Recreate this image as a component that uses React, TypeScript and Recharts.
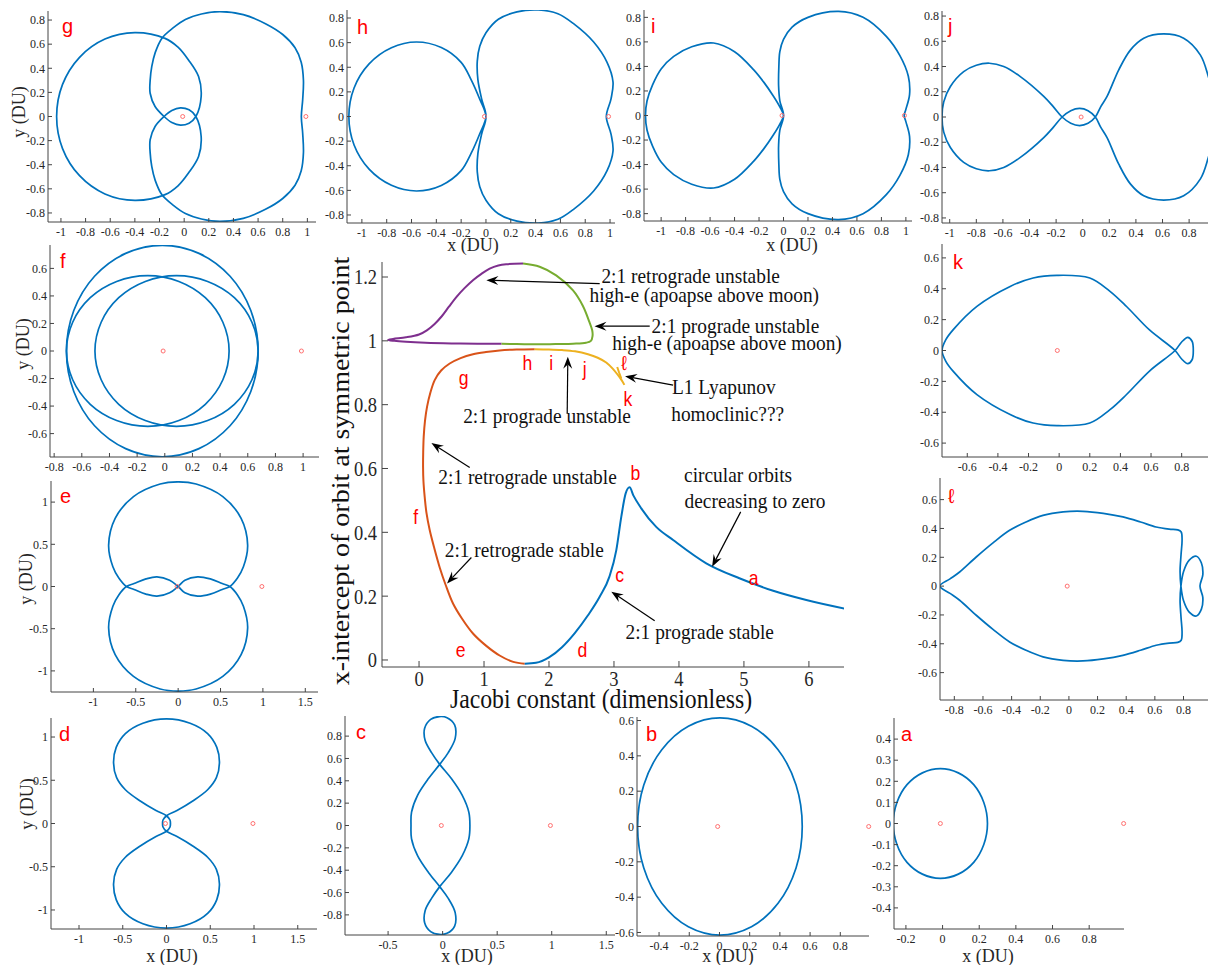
import React from "react";
import { LineChart, Line, XAxis, YAxis, ReferenceDot, ReferenceLine } from "recharts";

const SERIF = '"Liberation Serif", "Times New Roman", serif';
const SANS = '"Liberation Sans", Arial, sans-serif';
const INK = "#262626";
const FRAME = "#444";
const BLUE = "#0072BD";
const RED = "#ff0000";

// earth and moon on the x axis (DU)
const primaries = [-0.012, 0.988];

// ---------- tick lists ----------
const ticksOne = [-1, -0.8, -0.6, -0.4, -0.2, 0, 0.2, 0.4, 0.6, 0.8, 1];
const ticksP8 = [-0.8, -0.6, -0.4, -0.2, 0, 0.2, 0.4, 0.6, 0.8];
const ticksP6 = [-0.6, -0.4, -0.2, 0, 0.2, 0.4, 0.6];
const ticksF = [-0.8, -0.6, -0.4, -0.2, 0, 0.2, 0.4, 0.6, 0.8, 1];
const ticksK = [-0.6, -0.4, -0.2, 0, 0.2, 0.4, 0.6, 0.8];
const ticksHalfX = [-1, -0.5, 0, 0.5, 1, 1.5];
const ticksHalfY = [-1, -0.5, 0, 0.5, 1];
const ticksC = [-0.5, 0, 0.5, 1, 1.5];
const ticksB = [-0.4, -0.2, 0, 0.2, 0.4, 0.6, 0.8];
const ticksAX = [-0.2, 0, 0.2, 0.4, 0.6, 0.8];
const ticksAY = [-0.4, -0.3, -0.2, -0.1, 0, 0.1, 0.2, 0.3, 0.4];
const mainXTicks = [0, 1, 2, 3, 4, 5, 6];
const mainYTicks = [0, 0.2, 0.4, 0.6, 0.8, 1, 1.2];

// ---------- orbits (x, y in DU) ----------
const orbitG = [
  [0.29, 0.87], [0.48, 0.845], [0.66, 0.77], [0.8, 0.68], [0.9, 0.57], [0.95, 0.45], [0.968, 0.3], [0.962, 0.14], [0.951, 0],
  [0.962, -0.14], [0.968, -0.3], [0.95, -0.45], [0.9, -0.57], [0.8, -0.68], [0.66, -0.77], [0.48, -0.845], [0.29, -0.87],
  [0.14, -0.85], [0.01, -0.805], [-0.09, -0.735], [-0.18, -0.65], [-0.235, -0.53], [-0.263, -0.414], [-0.276, -0.3],
  [-0.276, -0.193], [-0.236, -0.083], [-0.163, 0],
  [-0.1, 0.05], [-0.03, 0.072], [0.04, 0.055], [0.095, 0],
  [0.138, -0.166], [0.117, -0.331], [0.035, -0.469], [-0.05, -0.575], [-0.155, -0.648], [-0.4, -0.695], [-0.643, -0.642],
  [-0.849, -0.491], [-0.987, -0.266], [-1.035, 0], [-0.987, 0.266], [-0.849, 0.491], [-0.643, 0.642], [-0.4, 0.695],
  [-0.155, 0.648], [-0.05, 0.575], [0.035, 0.469], [0.117, 0.331], [0.138, 0.166], [0.095, 0],
  [0.04, -0.055], [-0.03, -0.072], [-0.1, -0.05], [-0.163, 0],
  [-0.236, 0.083], [-0.276, 0.193], [-0.276, 0.3], [-0.263, 0.414], [-0.235, 0.53], [-0.18, 0.65], [-0.09, 0.735],
  [0.01, 0.805], [0.14, 0.85], [0.29, 0.87],
];

const orbitH = [
  [0, 0], [-0.035, 0.143], [-0.065, 0.3], [-0.07, 0.45], [-0.05, 0.57], [0.0, 0.68], [0.1, 0.79], [0.25, 0.85],
  [0.423, 0.865], [0.58, 0.835], [0.706, 0.754], [0.868, 0.605], [0.976, 0.44], [1.024, 0.28], [1.008, 0.143], [0.97, 0],
  [1.008, -0.143], [1.024, -0.28], [0.976, -0.44], [0.868, -0.605], [0.706, -0.754], [0.58, -0.835], [0.423, -0.865],
  [0.25, -0.85], [0.1, -0.79], [0.0, -0.68], [-0.05, -0.57], [-0.07, -0.45], [-0.065, -0.3], [-0.035, -0.143], [0, 0],
  [-0.05, 0.14], [-0.12, 0.3], [-0.2, 0.44], [-0.36, 0.56], [-0.56, 0.605], [-0.762, 0.559], [-0.942, 0.428], [-1.063, 0.232],
  [-1.105, 0], [-1.063, -0.232], [-0.942, -0.428], [-0.762, -0.559], [-0.56, -0.605], [-0.36, -0.56], [-0.2, -0.44],
  [-0.12, -0.3], [-0.05, -0.14], [0, 0],
];

const orbitI = [
  [0, 0], [-0.03, 0.12], [-0.04, 0.24], [-0.038, 0.4], [-0.03, 0.52], [0.0, 0.62], [0.07, 0.72], [0.2, 0.8], [0.45, 0.848],
  [0.65, 0.8], [0.84, 0.645], [0.95, 0.49], [1.02, 0.32], [1.03, 0.17], [1.0, 0.05], [0.986, 0],
  [1.0, -0.05], [1.03, -0.17], [1.02, -0.32], [0.95, -0.49], [0.84, -0.645], [0.65, -0.8], [0.45, -0.848],
  [0.2, -0.8], [0.07, -0.72], [0.0, -0.62], [-0.03, -0.52], [-0.038, -0.4], [-0.04, -0.24], [-0.03, -0.12], [0, 0],
  [-0.03, 0.07], [-0.082, 0.157], [-0.16, 0.27], [-0.245, 0.374], [-0.4, 0.52], [-0.571, 0.591], [-0.75, 0.56], [-0.897, 0.482],
  [-1.0, 0.38], [-1.07, 0.25], [-1.115, 0.12], [-1.128, 0], [-1.115, -0.12], [-1.07, -0.25], [-1.0, -0.38], [-0.897, -0.482],
  [-0.75, -0.56], [-0.571, -0.591], [-0.4, -0.52], [-0.245, -0.374], [-0.16, -0.27], [-0.082, -0.157], [-0.03, -0.07], [0, 0],
];

const orbitJ = [
  [-0.155, 0], [-0.09, -0.05], [-0.023, -0.068], [0.04, -0.05], [0.095, 0], [0.135, 0.08], [0.183, 0.163], [0.271, 0.374],
  [0.358, 0.53], [0.459, 0.624], [0.609, 0.658], [0.759, 0.624], [0.885, 0.49], [0.945, 0.32], [0.985, 0.17], [1.0, 0.05],
  [0.995, 0], [1.0, -0.05], [0.985, -0.17], [0.945, -0.32], [0.885, -0.49], [0.759, -0.624], [0.609, -0.658], [0.459, -0.624],
  [0.358, -0.53], [0.271, -0.374], [0.183, -0.163], [0.135, -0.08], [0.095, 0], [0.04, 0.05], [-0.023, 0.068], [-0.09, 0.05],
  [-0.155, 0], [-0.22, -0.08], [-0.293, -0.163], [-0.469, -0.32], [-0.594, -0.4], [-0.702, -0.426], [-0.8, -0.41],
  [-0.895, -0.36], [-0.995, -0.242], [-1.045, -0.12], [-1.058, 0], [-1.045, 0.12], [-0.995, 0.242], [-0.895, 0.36],
  [-0.8, 0.41], [-0.702, 0.426], [-0.594, 0.4], [-0.469, 0.32], [-0.293, 0.163], [-0.22, 0.08], [-0.155, 0],
];

const orbitFOuter = [
  [0.675, 0], [0.622, 0.294], [0.472, 0.543], [0.247, 0.709], [-0.018, 0.768], [-0.283, 0.709], [-0.508, 0.543], [-0.658, 0.294],
  [-0.711, 0], [-0.658, -0.294], [-0.508, -0.543], [-0.283, -0.709], [-0.018, -0.768], [0.247, -0.709], [0.472, -0.543],
  [0.622, -0.294], [0.675, 0],
];
const orbitFLeft = [
  [0.465, 0], [0.42, 0.209], [0.293, 0.387], [0.102, 0.505], [-0.123, 0.547], [-0.348, 0.505], [-0.539, 0.387], [-0.666, 0.209],
  [-0.711, 0], [-0.666, -0.209], [-0.539, -0.387], [-0.348, -0.505], [-0.123, -0.547], [0.102, -0.505], [0.293, -0.387],
  [0.42, -0.209], [0.465, 0],
];
const orbitFRight = [
  [0.675, 0], [0.63, 0.209], [0.503, 0.387], [0.31, 0.505], [0.085, 0.547], [-0.141, 0.505], [-0.333, 0.387], [-0.46, 0.209],
  [-0.505, 0], [-0.46, -0.209], [-0.333, -0.387], [-0.141, -0.505], [0.085, -0.547], [0.31, -0.505], [0.503, -0.387],
  [0.63, -0.209], [0.675, 0],
];

const orbitE = [
  [0, 0], [0.08, 0.075], [0.23, 0.115], [0.38, 0.09], [0.52, 0.035], [0.61, 0],
  [0.7, -0.1], [0.77, -0.233], [0.82, -0.49], [0.743, -0.807], [0.527, -1.065], [0.212, -1.214], [0, -1.24], [-0.212, -1.214],
  [-0.527, -1.065], [-0.743, -0.807], [-0.82, -0.49], [-0.77, -0.233], [-0.7, -0.1], [-0.61, 0],
  [-0.52, 0.035], [-0.38, 0.09], [-0.25, 0.115], [-0.1, 0.075], [0, 0],
  [0.08, -0.075], [0.23, -0.115], [0.38, -0.09], [0.52, -0.035], [0.61, 0],
  [0.7, 0.1], [0.77, 0.233], [0.82, 0.49], [0.743, 0.807], [0.527, 1.065], [0.212, 1.214], [0, 1.24], [-0.212, 1.214],
  [-0.527, 1.065], [-0.743, 0.807], [-0.82, 0.49], [-0.77, 0.233], [-0.7, 0.1], [-0.61, 0],
  [-0.52, -0.035], [-0.38, -0.09], [-0.25, -0.115], [-0.1, -0.075], [0, 0],
];

const orbitD = [
  [0, 0.09], [0.12, 0.15], [0.3, 0.26], [0.47, 0.39], [0.57, 0.53], [0.605, 0.7], [0.575, 0.88], [0.47, 1.04], [0.27, 1.16],
  [0, 1.21], [-0.27, 1.16], [-0.47, 1.04], [-0.575, 0.88], [-0.605, 0.7], [-0.57, 0.53], [-0.47, 0.39], [-0.3, 0.26],
  [-0.12, 0.15], [0, 0.09], [0.04, 0.04], [0.045, 0], [0.04, -0.04], [0, -0.09],
  [-0.12, -0.15], [-0.3, -0.26], [-0.47, -0.39], [-0.57, -0.53], [-0.605, -0.7], [-0.575, -0.88], [-0.47, -1.04],
  [-0.27, -1.16], [0, -1.21], [0.27, -1.16], [0.47, -1.04], [0.575, -0.88], [0.605, -0.7], [0.57, -0.53], [0.47, -0.39],
  [0.3, -0.26], [0.12, -0.15], [0, -0.09], [-0.04, -0.04], [-0.045, 0], [-0.04, 0.04], [0, 0.09],
];

const orbitC = [
  [-0.027, 0.547], [0.05, 0.65], [0.115, 0.78], [0.11, 0.9], [0.04, 0.965], [-0.03, 0.975], [-0.11, 0.95], [-0.165, 0.87],
  [-0.16, 0.76], [-0.1, 0.65], [-0.027, 0.547], [0.08, 0.42], [0.18, 0.27], [0.24, 0.12], [0.25, 0], [0.24, -0.12], [0.18, -0.27],
  [0.08, -0.42], [-0.027, -0.547], [-0.1, -0.65], [-0.16, -0.76], [-0.165, -0.87], [-0.11, -0.95], [-0.03, -0.975],
  [0.04, -0.965], [0.11, -0.9], [0.115, -0.78], [0.05, -0.65], [-0.027, -0.547], [-0.13, -0.42], [-0.23, -0.27], [-0.285, -0.12],
  [-0.29, 0], [-0.285, 0.12], [-0.23, 0.27], [-0.13, 0.42], [-0.027, 0.547],
];

const orbitB = [
  [0.548, 0], [0.507, 0.235], [0.388, 0.435], [0.212, 0.568], [0.003, 0.615], [-0.206, 0.568], [-0.382, 0.435], [-0.501, 0.235],
  [-0.542, 0], [-0.501, -0.235], [-0.382, -0.435], [-0.206, -0.568], [0.003, -0.615], [0.212, -0.568], [0.388, -0.435],
  [0.507, -0.235], [0.548, 0],
];

const orbitA = [
  [0.245, 0], [0.225, 0.0995], [0.17, 0.184], [0.086, 0.24], [-0.012, 0.26], [-0.11, 0.24], [-0.194, 0.184], [-0.249, 0.0995],
  [-0.269, 0], [-0.249, -0.0995], [-0.194, -0.184], [-0.11, -0.24], [-0.012, -0.26], [0.086, -0.24], [0.17, -0.184],
  [0.225, -0.0995], [0.245, 0],
];

const orbitK = [
  [-0.765, 0], [-0.74, 0.07], [-0.69, 0.137], [-0.537, 0.286], [-0.32, 0.415], [-0.17, 0.47], [-0.015, 0.487], [0.2, 0.47],
  [0.33, 0.385], [0.44, 0.285], [0.59, 0.133], [0.757, 0], [0.8, -0.055], [0.84, -0.085], [0.868, -0.06], [0.876, 0],
  [0.868, 0.06], [0.84, 0.085], [0.8, 0.055], [0.757, 0], [0.59, -0.133], [0.44, -0.285], [0.33, -0.385], [0.2, -0.47],
  [-0.015, -0.487], [-0.17, -0.47], [-0.32, -0.415], [-0.537, -0.286], [-0.69, -0.137], [-0.74, -0.07], [-0.765, 0],
];

const orbitL = [
  [-0.902, 0], [-0.83, 0.05], [-0.763, 0.098], [-0.647, 0.202], [-0.53, 0.3], [-0.414, 0.387], [-0.3, 0.445], [-0.181, 0.491],
  [-0.04, 0.515], [0.098, 0.519], [0.24, 0.505], [0.377, 0.48], [0.5, 0.445], [0.609, 0.41], [0.7, 0.395], [0.76, 0.39],
  [0.784, 0.375], [0.79, 0.32], [0.783, 0.22], [0.776, 0.1], [0.782, 0], [0.8, -0.1], [0.84, -0.18], [0.89, -0.207],
  [0.925, -0.16], [0.935, -0.08], [0.915, 0], [0.935, 0.08], [0.925, 0.16], [0.89, 0.207], [0.84, 0.18], [0.8, 0.1],
  [0.782, 0], [0.776, -0.1], [0.783, -0.22], [0.79, -0.32], [0.784, -0.375], [0.76, -0.39], [0.7, -0.395], [0.609, -0.41],
  [0.5, -0.445], [0.377, -0.48], [0.24, -0.505], [0.098, -0.519], [-0.04, -0.515], [-0.181, -0.491], [-0.3, -0.445],
  [-0.414, -0.387], [-0.53, -0.3], [-0.647, -0.202], [-0.763, -0.098], [-0.83, -0.05], [-0.902, 0],
];

// ---------- family curves: Jacobi constant vs x-intercept ----------
const progradeStable = [
  [1.626, -0.012], [1.8, -0.009], [2.0, 0.008], [2.2, 0.04], [2.4, 0.085], [2.6, 0.14], [2.78, 0.198], [2.93, 0.261],
  [3.036, 0.344], [3.113, 0.449], [3.18, 0.522], [3.24, 0.541], [3.3, 0.515], [3.42, 0.475], [3.65, 0.417], [3.91, 0.376],
  [4.42, 0.303], [4.93, 0.256], [5.45, 0.217], [5.96, 0.188], [6.55, 0.161],
];
const retrograde = [
  [1.626, -0.012], [1.45, -0.006], [1.24, 0.014], [1.03, 0.045], [0.83, 0.083], [0.66, 0.13], [0.523, 0.177], [0.41, 0.235],
  [0.318, 0.29], [0.235, 0.35], [0.164, 0.407], [0.115, 0.46], [0.087, 0.511], [0.068, 0.56], [0.062, 0.605], [0.064, 0.65],
  [0.072, 0.7], [0.092, 0.75], [0.123, 0.793], [0.175, 0.838], [0.241, 0.877], [0.34, 0.907], [0.472, 0.929], [0.64, 0.946],
  [0.83, 0.958], [1.03, 0.965], [1.24, 0.97], [1.5, 0.973], [1.78, 0.974],
];
const progradeUnstable = [
  [1.78, 0.974], [2.0, 0.973], [2.2, 0.971], [2.4, 0.967], [2.6, 0.958], [2.75, 0.947], [2.88, 0.932], [2.98, 0.913],
  [3.06, 0.893], [3.12, 0.876], [3.16, 0.862],
];
const lyapunovBranch = [[3.05, 0.918], [3.08, 0.9], [3.113, 0.882]];
const retroHighE = [
  [1.27, 0.9905], [0.9, 0.991], [0.5, 0.992], [0.1, 0.994], [-0.2, 0.997], [-0.38, 1.0], [-0.477, 1.003], [-0.4, 1.006],
  [-0.2, 1.011], [0.0, 1.02], [0.12, 1.033], [0.24, 1.053], [0.35, 1.077], [0.46, 1.107], [0.574, 1.137], [0.7, 1.165],
  [0.83, 1.19], [0.96, 1.21], [1.087, 1.226], [1.22, 1.236], [1.34, 1.24], [1.6, 1.242],
];
const proHighE = [
  [1.6, 1.242], [1.856, 1.232], [2.11, 1.205], [2.37, 1.158], [2.52, 1.11], [2.62, 1.06], [2.665, 1.033], [2.67, 1.015],
  [2.645, 1.0], [2.57, 0.994], [2.37, 0.991], [2.1, 0.99], [1.856, 0.989], [1.5, 0.99], [1.27, 0.9905],
];

// notes on the big panel, in data coordinates
const notes = [
  { text: "2:1 retrograde unstable", x: 4.18, y: 1.206 },
  { text: "high-e (apoapse above moon)", x: 4.39, y: 1.146 },
  { text: "2:1 prograde unstable", x: 4.87, y: 1.049 },
  { text: "high-e (apoapse above moon)", x: 4.74, y: 0.993 },
  { text: "2:1 prograde unstable", x: 1.97, y: 0.767 },
  { text: "L1 Lyapunov", x: 4.69, y: 0.856 },
  { text: "homoclinic???", x: 4.75, y: 0.772 },
  { text: "2:1 retrograde unstable", x: 1.67, y: 0.574 },
  { text: "circular orbits", x: 4.91, y: 0.582 },
  { text: "decreasing to zero", x: 5.17, y: 0.501 },
  { text: "2:1 retrograde stable", x: 1.62, y: 0.347 },
  { text: "2:1 prograde stable", x: 4.32, y: 0.089 },
];
const arrows = [
  { from: [2.78, 1.179], to: [1.036, 1.19] },
  { from: [3.55, 1.046], to: [2.7, 1.046] },
  { from: [2.28, 0.772], to: [2.29, 0.95] },
  { from: [3.91, 0.861], to: [3.17, 0.889] },
  { from: [0.78, 0.603], to: [0.19, 0.68] },
  { from: [4.95, 0.464], to: [4.51, 0.292] },
  { from: [0.805, 0.321], to: [0.431, 0.24] },
  { from: [3.626, 0.123], to: [2.959, 0.214] },
];
const familyLetters = [
  { t: "g", x: 0.687, y: 0.884 }, { t: "h", x: 1.667, y: 0.931 }, { t: "i", x: 2.036, y: 0.931 },
  { t: "j", x: 2.549, y: 0.91 }, { t: "ℓ", x: 3.154, y: 0.929 }, { t: "k", x: 3.215, y: 0.816 },
  { t: "b", x: 3.328, y: 0.586 }, { t: "f", x: -0.051, y: 0.449 }, { t: "c", x: 3.087, y: 0.266 },
  { t: "a", x: 5.149, y: 0.258 }, { t: "e", x: 0.641, y: 0.031 }, { t: "d", x: 2.513, y: 0.031 },
];

// centripetal Catmull-Rom through the points; closes the loop when the path ends where it began
const smoothCurve = (context: any) => {
  let pts: number[][] = [];
  return {
    areaStart() {},
    areaEnd() {},
    lineStart() { pts = []; },
    point(x: number, y: number) { pts.push([+x, +y]); },
    lineEnd() {
      if (!pts.length) return;
      const last = pts[pts.length - 1];
      const closed = pts.length > 3 && Math.abs(pts[0][0] - last[0]) < 0.01 && Math.abs(pts[0][1] - last[1]) < 0.01;
      const p = closed ? pts.slice(0, -1) : pts;
      const n = p.length;
      context.moveTo(p[0][0], p[0][1]);
      const get = (i: number) => (closed ? p[(i + n) % n] : p[Math.max(0, Math.min(n - 1, i))]);
      const segs = closed ? n : n - 1;
      for (let i = 0; i < segs; i++) {
        const p0 = get(i - 1), p1 = get(i), p2 = get(i + 1), p3 = get(i + 2);
        const d01 = Math.hypot(p1[0] - p0[0], p1[1] - p0[1]);
        const d12 = Math.hypot(p2[0] - p1[0], p2[1] - p1[1]);
        const d23 = Math.hypot(p3[0] - p2[0], p3[1] - p2[1]);
        const a01 = Math.sqrt(d01), a12 = Math.sqrt(d12), a23 = Math.sqrt(d23);
        let c1x = p1[0], c1y = p1[1], c2x = p2[0], c2y = p2[1];
        if (a01 > 1e-6) {
          const A = 2 * d01 + 3 * a01 * a12 + d12;
          const N = 3 * a01 * (a01 + a12);
          c1x = (p1[0] * A - p0[0] * d12 + p2[0] * d01) / N;
          c1y = (p1[1] * A - p0[1] * d12 + p2[1] * d01) / N;
        }
        if (a23 > 1e-6) {
          const Bc = 2 * d23 + 3 * a23 * a12 + d12;
          const M = 3 * a23 * (a23 + a12);
          c2x = (p2[0] * Bc + p1[0] * d23 - p3[0] * d12) / M;
          c2y = (p2[1] * Bc + p1[1] * d23 - p3[1] * d12) / M;
        }
        context.bezierCurveTo(c1x, c1y, c2x, c2y, p2[0], p2[1]);
      }
      if (closed) context.closePath();
    },
  };
};

const familySeries = [
  { data: retroHighE, color: "#7E2F8E", curve: smoothCurve },
  { data: proHighE, color: "#77AC30", curve: smoothCurve },
  { data: retrograde, color: "#D95319", curve: smoothCurve },
  { data: progradeUnstable, color: "#EDB120", curve: smoothCurve },
  { data: lyapunovBranch, color: "#EDB120", curve: "linear" },
  { data: progradeStable, color: BLUE, curve: "monotone" },
];

// ---------- layout of the small panels ----------
const panels = [
  { id: "g", box: [48, 11, 316, 222], xd: [-1.105, 1.07], yd: [-0.875, 0.875], xt: ticksOne, yt: ticksP8, curves: [orbitG], lp: [62, 16] },
  { id: "h", box: [347, 10, 615, 223], xd: [-1.12, 1.04], yd: [-0.865, 0.865], xt: ticksOne, yt: ticksP8, curves: [orbitH], lp: [357, 17] },
  { id: "i", box: [644, 10, 912, 221], xd: [-1.14, 1.05], yd: [-0.86, 0.86], xt: ticksOne, yt: ticksP8, curves: [orbitI], lp: [651, 16] },
  { id: "j", box: [942, 11, 1210, 223], xd: [-1.058, 0.957], yd: [-0.84, 0.84], xt: ticksOne, yt: ticksP8, curves: [orbitJ], lp: [948, 16] },
  { id: "f", box: [50, 245, 319, 457], xd: [-0.83, 1.115], yd: [-0.77, 0.77], xt: ticksF, yt: ticksP6, curves: [orbitFOuter, orbitFLeft, orbitFRight], lp: [60, 251] },
  { id: "k", box: [942, 244, 1210, 457], xd: [-0.765, 0.985], yd: [-0.69, 0.69], xt: ticksK, yt: ticksP6, curves: [orbitK], lp: [953, 252] },
  { id: "e", box: [51, 481, 318, 692], xd: [-1.5, 1.65], yd: [-1.25, 1.25], xt: ticksHalfX, yt: ticksHalfY, curves: [orbitE], lp: [60, 486] },
  { id: "ℓ", box: [940, 478, 1210, 700], xd: [-0.9, 0.985], yd: [-0.79, 0.75], xt: ticksP8, yt: ticksP6, curves: [orbitL], lp: [948, 486] },
  { id: "d", box: [51, 718, 317, 929], xd: [-1.32, 1.72], yd: [-1.22, 1.22], xt: ticksHalfX, yt: ticksHalfY, curves: [orbitD], lp: [59, 724] },
  { id: "c", box: [345, 716, 615, 935], xd: [-0.895, 1.58], yd: [-0.98, 0.98], xt: ticksC, yt: ticksP8, curves: [orbitC], lp: [356, 722] },
  { id: "b", box: [637, 717, 869, 936], xd: [-0.546, 0.99], yd: [-0.62, 0.62], xt: ticksB, yt: ticksP6, curves: [orbitB], lp: [646, 724] },
  { id: "a", box: [894, 718, 1124, 929], xd: [-0.265, 0.99], yd: [-0.5, 0.5], xt: ticksAX, yt: ticksAY, curves: [orbitA], lp: [901, 724] },
];
const yTitles = [[19, 112], [23, 344], [26, 579], [27, 804]];
const xTitles = [[473, 245], [792, 245], [172, 956], [467, 956], [728, 956], [988, 956]];

const toPts = (a: number[][]) => a.map(([x, y]) => ({ x, y }));
const inside = (ticks: number[], d: number[]) => ticks.filter((t) => t >= d[0] && t <= d[1]);

const squish = (x: number) => `matrix(0.88 0 0 1 ${x * 0.12} 0)`;

function OrbitPanel({ p }: { p: any }) {
  const [L, T, R, B] = p.box;
  const padL = 45, padT = 6, padR = 6, padB = 26;
  const w = R - L + padL + padR;
  const h = B - T + padT + padB;
  const tickFont = { fill: INK, fontSize: 12, fontFamily: SERIF };
  const xt = inside(p.xt, p.xd);
  const yt = inside(p.yt, p.yd);
  return (
    <div style={{ position: "absolute", left: L - padL, top: T - padT }}>
      <LineChart width={w} height={h} margin={{ top: padT, right: padR, bottom: 0, left: 0 }}>
        <XAxis type="number" dataKey="x" domain={p.xd} ticks={xt} allowDataOverflow interval={0}
          height={padB} tickSize={-4} tickMargin={9} stroke={FRAME} tick={tickFont} />
        <XAxis xAxisId="top" orientation="top" type="number" dataKey="x" domain={p.xd} ticks={xt}
          allowDataOverflow interval={0} height={0} tickSize={-4} stroke={FRAME} tickFormatter={() => ""} />
        <YAxis type="number" domain={p.yd} ticks={yt} allowDataOverflow interval={0}
          width={padL} tickSize={-4} tickMargin={7} stroke={FRAME} tick={tickFont} />
        <YAxis yAxisId="right" orientation="right" type="number" domain={p.yd} ticks={yt}
          allowDataOverflow interval={0} width={0} tickSize={-4} stroke={FRAME} tickFormatter={() => ""} />
        {p.curves.map((c: number[][], i: number) => (
          <Line key={i} data={toPts(c)} dataKey="y" type={smoothCurve as any} stroke={BLUE} strokeWidth={1.7}
            dot={false} activeDot={false} isAnimationActive={false} />
        ))}
        {primaries.map((mx) => (
          <ReferenceDot key={mx} x={mx} y={0} r={2} fill="none" stroke="#ff7070" strokeWidth={1} />
        ))}
      </LineChart>
    </div>
  );
}

const MainTick = (props: any) => {
  const { x, y, payload, textAnchor, verticalAnchor } = props;
  return (
    <text x={x} y={y} dy={verticalAnchor === "start" ? "0.71em" : "0.355em"} textAnchor={textAnchor}
      fontFamily={SERIF} fontSize={21} fill={INK} transform={squish(x)}>
      {payload.value}
    </text>
  );
};

const ArrowShape = (props: any) => {
  const { x1, y1, x2, y2 } = props;
  const a = Math.atan2(y2 - y1, x2 - x1);
  const c = Math.cos(a), s = Math.sin(a);
  const len = 12, half = 4.5;
  const bx = x2 - len * c, by = y2 - len * s;
  const nx = x2 - len * 0.65 * c, ny = y2 - len * 0.65 * s;
  const head = `${x2},${y2} ${bx - half * s},${by + half * c} ${nx},${ny} ${bx + half * s},${by - half * c}`;
  return (
    <g>
      <line x1={x1} y1={y1} x2={nx} y2={ny} stroke="#000" strokeWidth={1.2} />
      <polygon points={head} fill="#000" />
    </g>
  );
};

function FamilyChart() {
  const L = 382, T = 262, R = 844, B = 667;
  const padL = 60, padT = 12, padR = 45, padB = 45;
  return (
    <div style={{ position: "absolute", left: L - padL, top: T - padT }}>
      <LineChart width={R - L + padL + padR} height={B - T + padT + padB}
        margin={{ top: padT, right: padR, bottom: 0, left: 0 }}>
        <XAxis type="number" dataKey="x" domain={[-0.57, 6.54]} ticks={mainXTicks} allowDataOverflow interval={0}
          height={padB} tickSize={-6} tickMargin={10} stroke={FRAME} tick={<MainTick />} />
        <XAxis xAxisId="top" orientation="top" type="number" dataKey="x" domain={[-0.57, 6.54]} ticks={mainXTicks}
          allowDataOverflow interval={0} height={0} tickSize={-6} stroke={FRAME} tickFormatter={() => ""} />
        <YAxis type="number" domain={[-0.022, 1.247]} ticks={mainYTicks} allowDataOverflow interval={0}
          width={padL} tickSize={-6} tickMargin={11} stroke={FRAME} tick={<MainTick />} />
        <YAxis yAxisId="right" orientation="right" type="number" domain={[-0.022, 1.247]} ticks={mainYTicks}
          allowDataOverflow interval={0} width={0} tickSize={-6} stroke={FRAME} tickFormatter={() => ""} />
        {familySeries.map((s, i) => (
          <Line key={i} data={toPts(s.data)} dataKey="y" type={s.curve as any} stroke={s.color} strokeWidth={2}
            dot={false} activeDot={false} isAnimationActive={false} />
        ))}
        {arrows.map((a, i) => (
          <ReferenceLine key={"ar" + i} segment={[{ x: a.from[0], y: a.from[1] }, { x: a.to[0], y: a.to[1] }]}
            ifOverflow="visible" shape={ArrowShape} />
        ))}
        {notes.map((n, i) => (
          <ReferenceDot key={"n" + i} x={n.x} y={n.y} r={1} ifOverflow="visible"
            shape={(p: any) => (
              <text x={p.cx} y={p.cy} textAnchor="middle" dominantBaseline="central" fontFamily={SERIF}
                fontSize={22} fill="#111" transform={squish(p.cx)}>{n.text}</text>
            )} />
        ))}
        {familyLetters.map((n, i) => (
          <ReferenceDot key={"l" + i} x={n.x} y={n.y} r={1} ifOverflow="visible"
            shape={(p: any) => (
              <text x={p.cx} y={p.cy} textAnchor="middle" dominantBaseline="central" fontFamily={SANS}
                fontSize={20} fill={RED} transform={squish(p.cx)}>{n.t}</text>
            )} />
        ))}
      </LineChart>
    </div>
  );
}

export default function App() {
  const title: React.CSSProperties = {
    position: "absolute", fontFamily: SERIF, fontSize: 18, color: INK, lineHeight: 1, whiteSpace: "nowrap",
  };
  return (
    <div style={{ position: "absolute", left: 0, top: 0, width: 1208, height: 965, overflow: "hidden", background: "#fff" }}>
      {panels.map((p) => (
        <OrbitPanel key={p.id} p={p} />
      ))}
      {panels.map((p) => (
        <div key={"t" + p.id} style={{ position: "absolute", left: p.lp[0], top: p.lp[1], fontFamily: SANS,
          fontSize: 20, lineHeight: 1, color: RED }}>{p.id}</div>
      ))}
      {yTitles.map(([x, y], i) => (
        <div key={"y" + i} style={{ ...title, left: x, top: y, transform: "translate(-50%, -50%) rotate(-90deg)" }}>y (DU)</div>
      ))}
      {xTitles.map(([x, y], i) => (
        <div key={"x" + i} style={{ ...title, left: x, top: y, transform: "translate(-50%, -50%)" }}>x (DU)</div>
      ))}
      <FamilyChart />
      <div style={{ ...title, fontSize: 27, color: "#111", left: 601, top: 699, transform: "translate(-50%, -50%) scaleX(0.88)" }}>
        Jacobi constant (dimensionless)
      </div>
      <div style={{ ...title, fontSize: 28, color: "#111", left: 341, top: 471,
        transform: "translate(-50%, -50%) rotate(-90deg) scaleY(0.88)" }}>
        x-intercept of orbit at symmetric point
      </div>
    </div>
  );
}
